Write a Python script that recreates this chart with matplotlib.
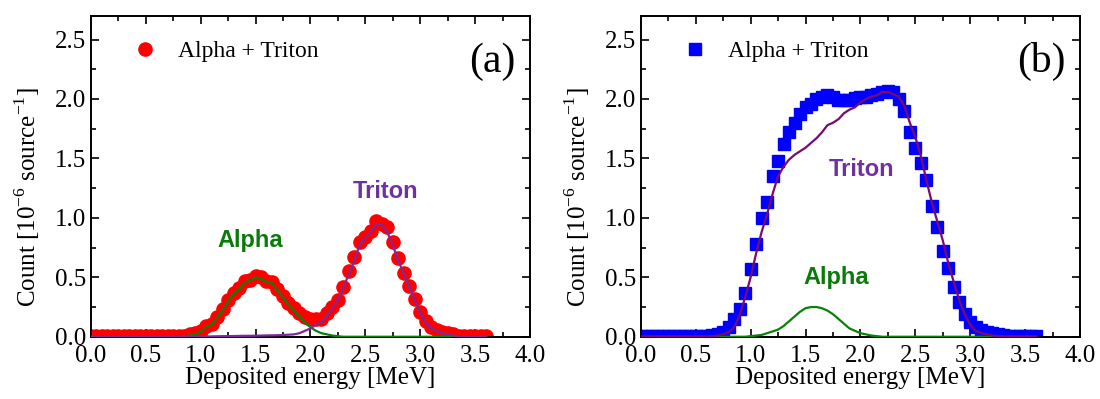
import numpy as np
import matplotlib
matplotlib.use("Agg")
import matplotlib.pyplot as plt
from matplotlib.ticker import MultipleLocator, FormatStrFormatter

plt.rcParams['font.family'] = ['Liberation Serif', 'DejaVu Serif']
plt.rcParams['mathtext.fontset'] = 'custom'
plt.rcParams['mathtext.rm'] = 'Liberation Serif'

# energy grid [MeV]
energy = np.round(np.arange(0, 3.601, 0.05), 2)

# panel (a) - measured sum and components
total_a = [0.01]*17 + [
    0.01, 0.02, 0.03, 0.05, 0.09, 0.11, 0.17, 0.23, 0.31, 0.37,
    0.41, 0.47, 0.48, 0.51, 0.50, 0.47, 0.46, 0.40, 0.34, 0.28,
    0.24, 0.20, 0.17, 0.15, 0.15, 0.15, 0.20, 0.25, 0.31, 0.42,
    0.55, 0.67, 0.80, 0.84, 0.89, 0.97, 0.95, 0.92, 0.80, 0.66,
    0.54, 0.43, 0.32, 0.21, 0.13, 0.08, 0.06, 0.04, 0.03, 0.02,
] + [0.01]*6
alpha_a = [0.0]*17 + [
    0.005, 0.01, 0.02, 0.04, 0.08, 0.10, 0.16, 0.22, 0.30, 0.36,
    0.40, 0.46, 0.47, 0.50, 0.49, 0.46, 0.45, 0.39, 0.33, 0.27,
    0.22, 0.17, 0.12, 0.08, 0.05, 0.03, 0.02, 0.01, 0.005,
] + [0.0]*27
triton_a = [0.0]*21 + [
    0.002, 0.003, 0.004, 0.005, 0.005, 0.006, 0.007, 0.008,
    0.008, 0.009, 0.01, 0.011, 0.012, 0.013, 0.015, 0.017,
    0.02, 0.03, 0.05, 0.07, 0.10, 0.12, 0.18, 0.24, 0.31, 0.41,
    0.53, 0.64, 0.78, 0.83, 0.88, 0.95, 0.94, 0.88, 0.77, 0.64,
    0.53, 0.42, 0.31, 0.20, 0.12, 0.07, 0.05, 0.03, 0.02, 0.01,
    0.005,
] + [0.0]*5

# panel (b)
total_b = [0.01]*13 + [
    0.015, 0.02, 0.04, 0.08, 0.15, 0.23, 0.37, 0.57, 0.78, 1.00,
    1.13, 1.35, 1.48, 1.62, 1.72, 1.80, 1.87, 1.93, 1.96, 2.00,
    2.02, 2.03, 2.02, 1.99, 1.99, 1.99, 2.01, 2.02, 2.02, 2.03,
    2.04, 2.06, 2.07, 2.06, 2.00, 1.90, 1.72, 1.59, 1.46, 1.32,
    1.10, 0.92, 0.72, 0.58, 0.42, 0.29, 0.19, 0.12, 0.08, 0.06,
    0.04, 0.03, 0.02, 0.015,
] + [0.01]*6
alpha_b = [0.0]*20 + [
    0.005, 0.01, 0.015, 0.03, 0.045, 0.06, 0.09, 0.13, 0.17, 0.21,
    0.24, 0.25, 0.25, 0.24, 0.22, 0.19, 0.15, 0.11, 0.07, 0.05,
    0.03, 0.02, 0.01, 0.005,
] + [0.0]*29
triton_b = [0.0]*13 + [
    0.005, 0.01, 0.02, 0.04, 0.08, 0.18, 0.33, 0.50, 0.70, 0.88,
    1.03, 1.20, 1.35, 1.43, 1.49, 1.53, 1.56, 1.59, 1.63, 1.67,
    1.72, 1.78, 1.80, 1.83, 1.88, 1.91, 1.93, 1.97, 2.00, 2.02,
    2.03, 2.06, 2.06, 2.04, 2.02, 1.94, 1.80, 1.68, 1.52, 1.32,
    1.13, 0.97, 0.81, 0.62, 0.46, 0.31, 0.19, 0.10, 0.05, 0.03,
    0.02, 0.01, 0.005,
] + [0.0]*7

panels = [
    dict(total=total_a, alpha=alpha_a, triton=triton_a, marker='o', ms=9.5,
         mcolor='#ff0000', tcolor='#7b2a9a', tag='(a)',
         alpha_pos=(1.45, 0.81), triton_pos=(2.68, 1.22)),
    dict(total=total_b, alpha=alpha_b, triton=triton_b, marker='s', ms=8,
         mcolor='#0000ff', tcolor='#7a0a6e', tag='(b)',
         alpha_pos=(1.78, 0.50), triton_pos=(2.01, 1.41)),
]

fig = plt.figure(figsize=(11, 3.99), dpi=100)
lefts = [0.0825, 0.5825]

for left, p in zip(lefts, panels):
    ax = fig.add_axes([left, 0.156, 0.3994, 0.8045])
    ax.plot(energy, p['total'], linestyle='none', marker=p['marker'],
            ms=p['ms'], color=p['mcolor'], mec=p['mcolor'],
            label='Alpha + Triton', zorder=2)
    ax.plot(energy, p['alpha'], color='#0a800a', lw=1.6, zorder=3)
    ax.plot(energy, p['triton'], color=p['tcolor'], lw=1.6, zorder=4)

    ax.text(*p['alpha_pos'], 'Alpha', color='#0a7a0a', fontsize=17,
            fontweight='bold', family='Liberation Sans', ha='center', va='center')
    ax.text(*p['triton_pos'], 'Triton', color='#7030a0', fontsize=17,
            fontweight='bold', family='Liberation Sans', ha='center', va='center')
    ax.text(0.913, 0.856, p['tag'], transform=ax.transAxes, fontsize=30,
            ha='center', va='center')

    ax.set_xlim(0, 4.0)
    ax.set_ylim(0, 2.7)
    ax.xaxis.set_major_locator(MultipleLocator(0.5))
    ax.xaxis.set_minor_locator(MultipleLocator(0.25))
    ax.yaxis.set_major_locator(MultipleLocator(0.5))
    ax.yaxis.set_minor_locator(MultipleLocator(0.25))
    ax.xaxis.set_major_formatter(FormatStrFormatter('%.1f'))
    ax.yaxis.set_major_formatter(FormatStrFormatter('%.1f'))
    ax.tick_params(which='both', direction='in', top=True, right=True,
                   labelsize=18, width=1.2)
    ax.tick_params(which='major', length=6)
    ax.tick_params(which='minor', length=3.5)
    ax.tick_params(axis='x', which='major', pad=6)
    for s in ax.spines.values():
        s.set_linewidth(1.4)

    ax.set_xlabel('Deposited energy [MeV]', fontsize=18, labelpad=0)
    ax.set_ylabel('Count [10$^{\\mathregular{-6}}$ source$^{\\mathregular{-1}}$]',
                  fontsize=18)
    ax.yaxis.set_label_coords(-0.111, 0.434)

    ax.legend(loc='upper left', bbox_to_anchor=(0.06, 0.975), frameon=False,
              fontsize=17, handlelength=1.0, handletextpad=0.9,
              borderaxespad=0.3)

fig.savefig('out.png', dpi=100)
